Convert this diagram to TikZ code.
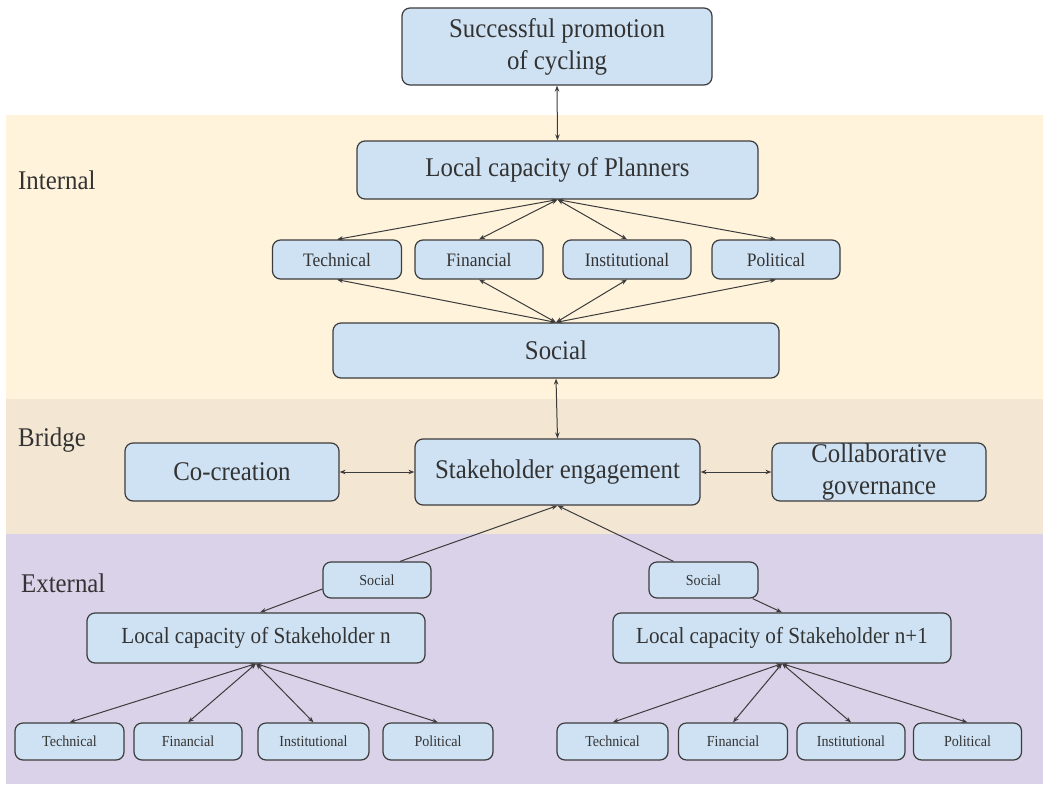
\documentclass[tikz,border=0pt]{standalone}
\usepackage{fontspec}
\setmainfont{Liberation Serif}[FakeStretch=0.92]
\usetikzlibrary{arrows.meta,calc}
\definecolor{bandin}{HTML}{FFF3DB}
\definecolor{bandbr}{HTML}{F3E6D3}
\definecolor{bandex}{HTML}{D9D2E9}
\definecolor{boxfill}{HTML}{CFE2F3}
\definecolor{boxline}{HTML}{3C3C3C}
\definecolor{txt}{HTML}{333333}
\begin{document}
\begin{tikzpicture}[x=1pt,y=-1pt,
  box/.style={draw=boxline, fill=boxfill, rounded corners=8pt, line width=1.2pt,
    inner sep=0pt, text=txt, align=center},
  bigbox/.style={box, font=\fontsize{27}{32}\selectfont},
  sholdbox/.style={box, font=\fontsize{23}{28}\selectfont},
  midbox/.style={box, font=\fontsize{19}{23}\selectfont},
  smallbox/.style={box, font=\fontsize{15.3}{18}\selectfont},
  tip/.tip={Stealth[length=6pt,width=4.5pt]},
  conn/.style={draw=boxline, line width=1pt, tip-tip},
  oneway/.style={draw=boxline, line width=1pt, -tip},
  bandlabel/.style={font=\fontsize{27}{32}\selectfont, text=txt, anchor=base west, inner sep=0pt}
]
\useasboundingbox (0,0) rectangle (1043,784);
\fill[white] (0,0) rectangle (1043,784);
\fill[bandin] (6,115) rectangle (1043,399);
\fill[bandbr] (6,399) rectangle (1043,534);
\fill[bandex] (6,534) rectangle (1043,784);

\node[bandlabel] (lint) at (18,189) {Internal};
\node[bandlabel] (lbri) at (18,446) {Bridge};
\node[bandlabel] (lext) at (21,592) {External};

\node[bigbox, minimum width=310pt, minimum height=77pt] (top) at (557,46.5) {Successful promotion\\of cycling};
\node[bigbox, minimum width=401pt, minimum height=58pt] (plan) at (557.5,170) {Local capacity of Planners};

\node[midbox, minimum width=129pt, minimum height=39pt] (t1) at (337,259.5) {Technical};
\node[midbox, minimum width=128pt, minimum height=39pt] (f1) at (479,259.5) {Financial};
\node[midbox, minimum width=128pt, minimum height=39pt] (i1) at (627,259.5) {Institutional};
\node[midbox, minimum width=128pt, minimum height=39pt] (p1) at (776,259.5) {Political};

\node[bigbox, minimum width=446pt, minimum height=55pt] (soc) at (556,350.5) {Social};

\node[bigbox, minimum width=285pt, minimum height=66pt] (stake) at (557.5,472) {Stakeholder engagement};
\node[bigbox, minimum width=214pt, minimum height=58pt] (co) at (232,472) {Co-creation};
\node[bigbox, minimum width=214pt, minimum height=58pt] (collab) at (879,472) {Collaborative\\governance};

\node[smallbox, minimum width=108pt, minimum height=36pt] (socl) at (377,580) {Social};
\node[smallbox, minimum width=109pt, minimum height=36pt] (socr) at (703.5,580) {Social};

\node[sholdbox, minimum width=338pt, minimum height=50pt] (sn) at (256,638) {Local capacity of Stakeholder n};
\node[sholdbox, minimum width=338pt, minimum height=50pt] (sm) at (782,638) {Local capacity of Stakeholder n+1};

\node[smallbox, minimum width=109pt, minimum height=37pt] (t2) at (69.5,741.5) {Technical};
\node[smallbox, minimum width=108pt, minimum height=37pt] (f2) at (188,741.5) {Financial};
\node[smallbox, minimum width=111pt, minimum height=37pt] (i2) at (313.5,741.5) {Institutional};
\node[smallbox, minimum width=110pt, minimum height=37pt] (p2) at (438,741.5) {Political};

\node[smallbox, minimum width=111pt, minimum height=37pt] (t3) at (612.5,741.5) {Technical};
\node[smallbox, minimum width=109pt, minimum height=37pt] (f3) at (733,741.5) {Financial};
\node[smallbox, minimum width=108pt, minimum height=37pt] (i3) at (851,741.5) {Institutional};
\node[smallbox, minimum width=108pt, minimum height=37pt] (p3) at (967.5,741.5) {Political};

% connectors
\draw[conn] (top.south) -- (plan.north);
\foreach \n in {t1,f1,i1,p1}{
  \draw[conn] (plan.south) -- (\n.north);
  \draw[conn] (\n.south) -- (soc.north);
}
\draw[conn] (soc.south) -- (stake.north);
\draw[conn] (co.east) -- (stake.west);
\draw[conn] (stake.east) -- (collab.west);

\draw[oneway] ($(socl.north)+(23,0)$) -- (stake.south);
\draw[oneway] ($(socr.north)+(-30,0)$) -- (stake.south);
\draw[oneway] ($(socl.west)+(0,9)$) -- ($(sn.north)+(4,0)$);
\draw[oneway] ($(socr.south east)+(-6,0)$) -- (sm.north);

\foreach \n in {t2,f2,i2,p2}{
  \draw[conn] (sn.south) -- (\n.north);
}
\foreach \n in {t3,f3,i3,p3}{
  \draw[conn] (sm.south) -- (\n.north);
}
\end{tikzpicture}
\end{document}
